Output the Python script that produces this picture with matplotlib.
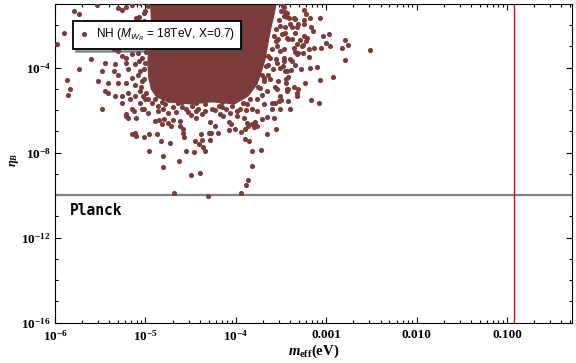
import numpy as np
import matplotlib
matplotlib.use('Agg')
import matplotlib.pyplot as plt
from matplotlib.ticker import FixedLocator, NullFormatter

plt.rcParams['mathtext.fontset'] = 'custom'
plt.rcParams['mathtext.rm'] = 'Liberation Serif:bold'
plt.rcParams['mathtext.it'] = 'Liberation Serif:italic:bold'
plt.rcParams['mathtext.bf'] = 'Liberation Serif:bold'
plt.rcParams['mathtext.sf'] = 'Liberation Sans:italic'

# ── data (log10 values) ─────────────────────────────────────────────────────
# scattered points around the dense cloud: log10(m_eff / eV), log10(eta_B)
log_m_eff = [
    -5.54, -5.79, -5.73, -5.90, -5.98, -5.60, -5.73, -5.87, -5.83, -5.86,
    -5.48, -5.30, -5.26, -5.21, -5.15, -5.02, -5.10, -4.97, -5.35, -5.30,
    -5.26, -5.21, -5.15, -5.08, -5.45, -5.34, -5.22, -5.11, -5.48, -5.35,
    -5.30, -5.19, -5.15, -5.08, -5.02, -5.52, -5.41, -5.30, -5.22, -5.11,
    -5.04, -5.45, -5.41, -5.34, -5.26, -5.19, -5.11, -5.06, -5.26, -5.17,
    -5.06, -5.00, -5.22, -5.19, -5.10, -5.15, -5.04, -4.97, -4.89, -4.82,
    # lower tail
    -5.13, -5.15, -5.12, -5.10, -5.02, -4.96, -4.87, -4.83, -4.73, -4.96,
    -4.80, -4.81, -4.63, -4.55, -4.46, -4.50, -4.40, -4.68, -4.31, -3.94,
    -3.89, -3.86, -3.82, -3.82, -3.72, -3.90, -3.85, -4.34, -4.36, -4.41,
    -4.45, -4.37, -4.28, -4.39, -4.30, -4.27, -4.20, -4.58, -4.57, -4.08,
    -4.01, -3.94, -3.90, -3.65, -3.56, -3.58, -3.66, -3.71, -3.77, -3.80,
    -3.86, -3.42, -3.52, -3.60, -3.57, -4.85, -4.79, -4.75, -4.72, -4.70,
    -4.62, -4.62, -4.58, -4.50, -4.44, -4.37, -4.28, -4.23, -4.17, -4.14,
    -4.08, -4.05, -3.99, -3.91, -3.88, -3.82, -3.79, -5.22, -5.02,
    # right side
    -3.25, -3.22, -3.07, -3.18, -3.24, -3.25, -3.17, -3.15, -3.04, -2.97,
    -3.21, -3.22, -3.29, -3.26, -3.32, -3.14, -3.06, -3.00, -2.96, -2.79,
    -2.76, -2.83, -2.51, -2.79, -3.19, -3.31, -3.26, -3.35, -3.40, -3.34,
    -3.28, -3.18, -3.10, -3.39, -2.92, -3.07, -3.42, -3.44, -3.36, -3.31,
    -3.43, -3.43, -3.32, -3.17, -3.08, -3.50, -3.47, -3.46, -3.47, -3.43,
    -3.41, -3.35, -3.38, -3.32, -3.34, -3.46, -3.38, -3.42, -3.36, -3.47,
    -3.48, -3.46, -3.48, -3.43, -3.36, -3.51, -3.40, -3.31, -3.58, -3.49,
    -3.43, -3.25, -3.54, -3.47, -3.27, -3.19, -3.64, -3.56, -3.47, -3.38,
    -3.32, -3.67, -3.59, -3.51, -3.43, -3.69, -3.62, -3.53, -3.45, -3.23,
    -3.73, -3.65, -3.54, -3.51, -3.42, -3.32, -3.77, -3.69, -3.60, -3.51,
    -3.40,
    # bottom edge of the cloud
    -4.93, -4.86, -4.78, -4.70, -4.64, -4.55, -4.48, -4.42, -4.34, -4.26,
    -4.19, -4.11, -4.04, -3.95, -3.88, -3.82, -4.86, -4.66, -4.44, -4.23,
    -3.99, -3.77,
]
log_eta_b = [
    -1.07, -1.34, -1.46, -2.35, -2.86, -3.61, -4.05, -4.60, -4.99, -5.29,
    -5.96, -1.18, -1.26, -1.13, -1.07, -1.41, -1.65, -1.10, -3.14, -3.22,
    -3.45, -3.53, -3.37, -3.29, -3.76, -3.84, -3.76, -3.84, -4.16, -4.16,
    -4.32, -4.08, -4.47, -4.32, -4.08, -4.63, -4.71, -4.71, -4.71, -4.79,
    -4.63, -5.10, -5.21, -5.34, -5.34, -5.18, -5.34, -5.10, -5.65, -5.49,
    -5.65, -5.49, -6.28, -6.35, -6.35, -5.96, -5.96, -6.12, -6.51, -6.67,
    # lower tail
    -6.04, -7.14, -7.09, -7.23, -7.25, -7.12, -7.11, -7.45, -7.53, -7.91,
    -8.16, -8.68, -8.40, -7.91, -7.95, -9.04, -8.97, -9.90, -10.04, -9.90,
    -9.51, -9.27, -8.61, -7.91, -7.86, -7.34, -7.45, -7.92, -7.72, -7.61,
    -7.45, -7.42, -7.41, -7.14, -7.08, -7.08, -7.06, -7.06, -7.25, -6.94,
    -6.87, -7.01, -6.90, -7.14, -6.87, -6.35, -6.31, -6.43, -6.75, -6.78,
    -6.72, -5.57, -5.55, -5.93, -5.68, -6.48, -6.40, -6.62, -6.72, -6.47,
    -6.51, -6.72, -6.87, -6.24, -6.35, -6.20, -6.56, -6.72, -6.20, -6.28,
    -6.56, -6.67, -6.28, -6.35, -6.59, -6.67, -6.56, -6.20, -5.93,
    # right side
    -1.30, -1.46, -1.68, -1.68, -1.76, -1.96, -2.07, -2.28, -2.51, -2.40,
    -2.59, -2.75, -2.68, -2.94, -2.90, -3.06, -3.06, -2.82, -2.96, -2.68,
    -2.92, -3.06, -3.15, -3.62, -3.48, -3.33, -3.29, -3.27, -3.58, -3.86,
    -4.05, -4.00, -3.95, -4.09, -4.42, -4.56, -4.44, -4.52, -4.89, -4.99,
    -4.99, -5.10, -5.34, -5.51, -5.65, -5.52, -1.13, -1.38, -1.57, -1.60,
    -1.68, -1.69, -2.07, -2.07, -2.35, -2.35, -2.64, -2.67, -3.06, -3.69,
    -3.92, -4.16, -1.10, -1.41, -1.65, -2.04, -1.96, -1.96, -2.51, -2.43,
    -2.59, -2.51, -2.98, -3.11, -2.98, -3.14, -3.45, -3.61, -3.53, -3.69,
    -3.37, -3.92, -4.08, -4.00, -4.16, -4.47, -4.55, -4.63, -4.71, -4.71,
    -4.94, -5.10, -5.02, -5.34, -4.99, -5.18, -5.49, -5.73, -5.65, -5.96,
    -5.96,
    # bottom edge of the cloud
    -5.68, -5.82, -5.73, -5.87, -5.68, -5.96, -5.78, -5.92, -5.73, -5.92,
    -5.78, -5.96, -5.78, -5.92, -5.73, -5.96, -6.05, -6.10, -6.05, -6.00,
    -6.05, -6.05,
]

# points sitting right on the rim of the solid core
rim_log_m = [
    -5.01, -5.05, -5.04, -5.00, -5.06, -5.01, -5.05, -4.99, -4.97, -5.03,
    -4.99, -5.07, -4.89, -4.82, -4.73, -4.59, -4.44, -4.37, -4.15, -4.08,
    -3.92, -3.84, -4.80, -4.59, -4.34, -4.15, -3.89, -4.75, -4.53, -4.06,
    -3.71, -3.75, -3.69, -3.71, -3.64, -3.62, -3.60, -3.56, -3.55, -3.52,
    -3.50, -3.51, -3.57, -3.64, -3.54, -3.51, -3.53, -3.46, -5.06, -5.00,
    -5.07,
]
rim_log_eta = [
    -1.82, -2.20, -3.52, -3.80, -4.17, -4.55, -4.93, -5.21, -5.49, -5.35,
    -3.28, -3.66, -5.49, -5.63, -5.54, -5.63, -5.68, -5.54, -5.63, -5.54,
    -5.68, -5.49, -5.92, -5.87, -6.05, -5.87, -6.01, -6.15, -6.10, -6.15,
    -5.26, -4.93, -4.64, -4.32, -3.89, -3.52, -3.14, -2.76, -2.20, -1.73,
    -1.35, -0.97, -4.93, -4.36, -3.80, -3.23, -2.67, -2.10, -0.97, -1.35,
    -1.59,
]

# outline of the solid (fully overlapping) core of the cloud
core_log_m = [-4.95, -4.94, -4.96, -4.98, -4.97, -4.94, -4.88, -4.75, -4.50,
              -4.26, -4.01, -3.86, -3.76, -3.71, -3.67, -3.64, -3.61, -3.57, -3.54]
core_log_eta = [-0.80, -1.73, -2.90, -3.70, -4.46, -5.02, -5.40, -5.63, -5.73,
                -5.63, -5.73, -5.35, -4.79, -4.17, -3.61, -2.90, -2.20, -1.49, -0.80]

planck_eta = 1.0e-10
m_eff_bound = 0.12

x_major = [1e-6, 1e-5, 1e-4, 1e-3, 1e-2, 1e-1]
x_labels = [r'$10^{-6}$', r'$10^{-5}$', r'$10^{-4}$', '0.001', '0.010', '0.100']
y_major = [1e-16, 1e-12, 1e-8, 1e-4]
y_labels = [r'$10^{-16}$', r'$10^{-12}$', r'$10^{-8}$', r'$10^{-4}$']

POINT_COLOR = '#7d3c3c'

# ── plot ────────────────────────────────────────────────────────────────────
fig = plt.figure(figsize=(5.76, 3.63), dpi=100)
ax = fig.add_axes([0.0955, 0.111, 0.897, 0.878])

ax.fill(np.power(10.0, core_log_m), np.power(10.0, core_log_eta),
        color=POINT_COLOR, lw=0, zorder=2)
pts_m = np.power(10.0, np.concatenate([log_m_eff, rim_log_m]))
pts_eta = np.power(10.0, np.concatenate([log_eta_b, rim_log_eta]))
ax.plot(pts_m, pts_eta, 'o', ms=3.7, color=POINT_COLOR, mec='none', zorder=3,
        label=r'NH ($\mathsf{M_{W_R}}$ = 18TeV, X=0.7)')

ax.axhline(planck_eta, color='#808080', lw=1.6, zorder=2.5)
ax.axvline(m_eff_bound, color='#dd0000', lw=0.9, zorder=2.5)
ax.text(1.45e-6, 10**-10.72, 'Planck', family='DejaVu Sans Mono',
        weight='bold', fontsize=10.5, ha='left', va='center')

ax.set_xscale('log')
ax.set_yscale('log')
ax.set_xlim(1e-6, 0.52)
ax.set_ylim(1e-16, 0.1)

ax.xaxis.set_major_locator(FixedLocator(x_major))
ax.xaxis.set_minor_locator(FixedLocator([k * 10.0**e for e in range(-6, 0) for k in range(2, 10)]))
ax.xaxis.set_minor_formatter(NullFormatter())
ax.set_xticklabels(x_labels)
ax.yaxis.set_major_locator(FixedLocator(y_major))
ax.yaxis.set_minor_locator(FixedLocator([10.0**e for e in range(-16, 0)]))
ax.yaxis.set_minor_formatter(NullFormatter())
ax.set_yticklabels(y_labels)

for lab in ax.get_xticklabels() + ax.get_yticklabels():
    lab.set_family('Liberation Serif')
    lab.set_weight('bold')
    lab.set_fontsize(9.5)

ax.tick_params(which='both', direction='in', top=True, right=True, width=0.8)
ax.tick_params(which='major', length=4.5, pad=3)
ax.tick_params(axis='x', which='major', pad=4.5)
ax.tick_params(which='minor', length=2.5)
for sp in ax.spines.values():
    sp.set_linewidth(0.8)

ax.set_xlabel(r'$m_{\mathbf{eff}}$(eV)', family='Liberation Serif',
              weight='bold', fontsize=10.5)
ax.xaxis.set_label_coords(0.5, -0.062)
ax.set_ylabel(r'$\eta_B$', fontsize=9)
ax.yaxis.set_label_coords(-0.066, 0.51)

leg = ax.legend(loc='upper left', bbox_to_anchor=(0.035, 0.947), borderaxespad=0,
                fancybox=False, shadow=True, framealpha=1,
                prop={'family': 'Liberation Sans', 'size': 8.6},
                handlelength=0.8, handletextpad=0.6, borderpad=0.5)
leg.get_frame().set_edgecolor('black')
leg.get_frame().set_linewidth(1.3)
leg.set_zorder(10)

fig.savefig('out.png', dpi=100)
